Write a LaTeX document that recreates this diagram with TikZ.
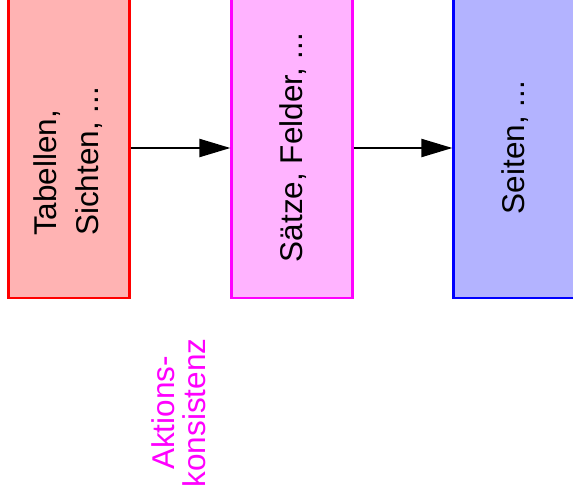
\documentclass[tikz,border=0pt]{standalone}
\usepackage{fontspec}
\setmainfont{Liberation Sans}
\usetikzlibrary{arrows.meta}
\definecolor{fillred}{RGB}{255,179,179}
\definecolor{fillmag}{RGB}{255,179,255}
\definecolor{fillblue}{RGB}{179,179,255}
\definecolor{linered}{RGB}{255,0,0}
\definecolor{linemag}{RGB}{255,0,255}
\definecolor{lineblue}{RGB}{0,0,255}
\begin{document}
\begin{tikzpicture}[x=1pt,y=1pt,
  layerbox/.style={rectangle,line width=2.2pt,minimum width=121pt,minimum height=300pt,inner sep=0pt},
  layertext/.style={rotate=90,inner sep=0pt,font=\fontsize{31.5}{42}\selectfont},
  flow/.style={line width=2.2pt,-{Triangle[length=31pt 0,width=18pt 0]}}]
\useasboundingbox (0,0) rectangle (573,-500);
\node[layerbox,draw=linered,fill=fillred] (red) at (69,-148) {};
\node[layerbox,draw=linemag,fill=fillmag] (mag) at (292,-148) {};
\node[layerbox,draw=lineblue,fill=fillblue] (blu) at (514,-148) {};
\node[layertext,align=left] (redtxt) at (68.5,-161.5) {Tabellen,\\Sichten, ...};
\node[layertext] (magtxt) at (293,-147.5) {Sätze, Felder, ...};
\node[layertext] (blutxt) at (515,-147.5) {Seiten, ...};
\node[rotate=90,inner sep=0pt,align=center,text=linemag,font=\fontsize{31.5}{31}\selectfont] (akt) at (179,-413) {Aktions-\\konsistenz};
\draw[flow] (red) -- (mag);
\draw[flow] (mag) -- (blu);
\end{tikzpicture}
\end{document}
